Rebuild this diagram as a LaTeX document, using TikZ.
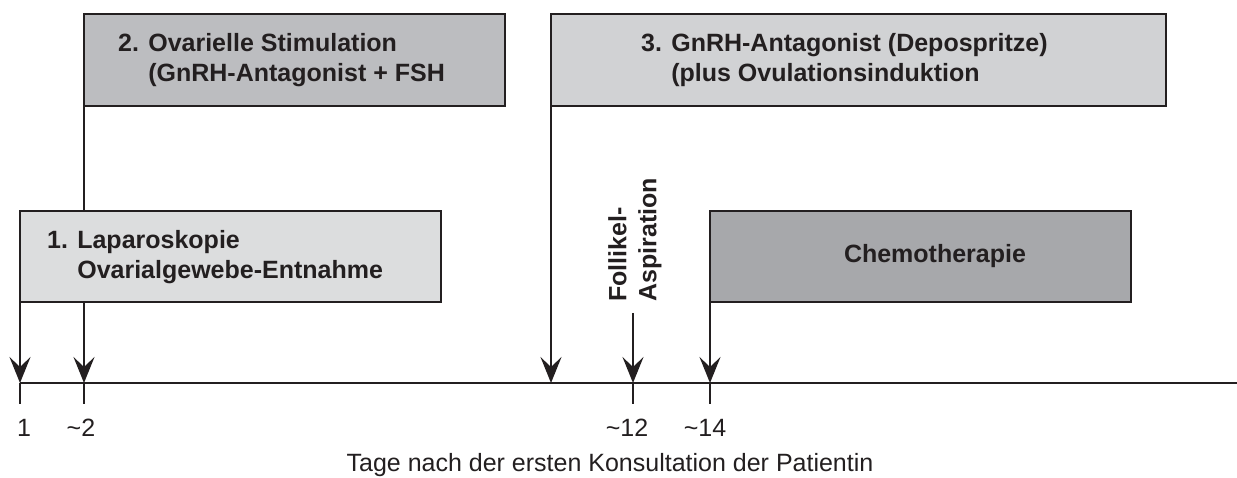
\documentclass[tikz,border=0pt]{standalone}
\usepackage{fontspec}
\setmainfont{Liberation Sans}
\usetikzlibrary{arrows.meta}
\definecolor{ink}{HTML}{231F20}
\definecolor{fillA}{HTML}{DCDDDE}
\definecolor{fillB}{HTML}{BCBDC0}
\definecolor{fillC}{HTML}{D1D2D4}
\definecolor{fillD}{HTML}{A7A8AB}
\begin{document}
\begin{tikzpicture}[x=1pt,y=-1pt,
  box/.style={draw=ink, line width=2.5pt, outer sep=0pt, inner sep=0pt, anchor=north west},
  lbl/.style={font=\fontsize{25}{30}\selectfont\bfseries, text=ink, align=left, inner sep=0pt, anchor=west},
  arr/.style={draw=ink, line width=2pt, -{Stealth[length=26pt,width=21pt,inset=10pt]}},
  ln/.style={draw=ink, line width=2pt},
  num/.style={font=\fontsize{25}{30}\selectfont, text=ink, inner sep=0pt, anchor=base}]
\useasboundingbox (0,0) rectangle (1237,478);
% axis coordinates
\coordinate (t1) at (20,383);
\coordinate (t2) at (84,383);
\coordinate (t3) at (551,383);
\coordinate (t12) at (633,383);
\coordinate (t14) at (710,383);
\coordinate (axR) at (1237,383);
\coordinate (fa) at (633,313);
\coordinate (k1) at (20,404);
\coordinate (k2) at (84,404);
\coordinate (k12) at (633,404);
\coordinate (k14) at (710,404);
% upper boxes
\node[box, fill=fillB, minimum width=421pt, minimum height=92pt] (b2) at (84,14) {};
\node[box, fill=fillC, minimum width=615pt, minimum height=92pt] (b3) at (551,14) {};
\draw[arr] (b2.south west) -- (t2);
\draw[arr] (b3.south west) -- (t3);
% lower boxes
\node[box, fill=fillA, minimum width=421pt, minimum height=91pt] (b1) at (20,211) {};
\node[box, fill=fillD, minimum width=421pt, minimum height=91pt] (ch) at (710,211) {};
\draw[arr] (b1.south west) -- (t1);
\draw[arr] (ch.south west) -- (t14);
\draw[arr] (fa) -- (t12);
% axis and ticks
\draw[ln] (t1) -- (axR);
\draw[ln] (t1) -- (k1);
\draw[ln] (t2) -- (k2);
\draw[ln] (t12) -- (k12);
\draw[ln] (t14) -- (k14);
% box texts
\node[lbl] (l2) at (118,60) {2. Ovarielle Stimulation\\\phantom{2. }(GnRH-Antagonist + FSH};
\node[lbl] (l3) at (641,60) {3. GnRH-Antagonist (Depospritze)\\\phantom{3. }(plus Ovulationsinduktion};
\node[lbl] (l1) at (47,257) {1. Laparoskopie\\\phantom{1. }Ovarialgewebe-Entnahme};
\node[lbl, anchor=center] (lc) at (935,256) {Chemotherapie};
\node[lbl, rotate=90] (lf) at (635,302) {Follikel-\\Aspiration};
% numbers
\node[num] (n1) at (24,436) {1};
\node[num] (n2) at (81,436) {\textasciitilde2};
\node[num] (n12) at (627,436) {\textasciitilde12};
\node[num] (n14) at (705,436) {\textasciitilde14};
\node[num] (cap) at (610,471) {Tage nach der ersten Konsultation der Patientin};
\end{tikzpicture}
\end{document}
